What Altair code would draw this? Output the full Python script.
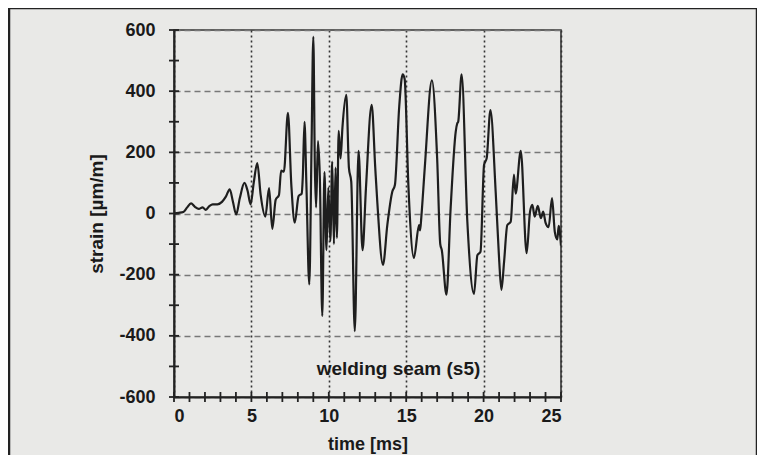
import altair as alt
import pandas as pd

# time [ms] and strain [µm/m]
time_ms = [0.0, 0.3, 0.6, 0.85, 1.1, 1.35, 1.6, 1.85, 2.05, 2.3, 2.5, 2.8, 3.1, 3.35, 3.6, 3.8, 4.02, 4.25,
           4.55, 4.75, 4.95, 5.15, 5.38, 5.6, 5.9, 6.14, 6.35, 6.57, 6.78, 6.92, 7.1, 7.36, 7.58, 7.8,
           8.05, 8.25, 8.32, 8.43, 8.55, 8.74, 8.88, 9.0, 9.1, 9.18, 9.3, 9.42, 9.58, 9.72, 9.85, 9.97,
           10.1, 10.22, 10.33, 10.44, 10.52, 10.64, 10.76, 10.88, 11.13, 11.3, 11.45, 11.68, 11.92,
           12.18, 12.4, 12.77, 13.0, 13.13, 13.5, 13.78, 14.1, 14.27, 14.55, 14.77, 14.9, 15.14, 15.5,
           15.83, 15.9, 15.98, 16.2, 16.66, 17.0, 17.2, 17.3, 17.6, 17.87, 18.2, 18.3, 18.36, 18.58,
           18.95, 19.38, 19.6, 19.8, 20.03, 20.2, 20.44, 20.78, 21.0, 21.15, 21.32, 21.53, 21.75,
           21.96, 22.07, 22.4, 22.78, 23.0, 23.15, 23.3, 23.5, 23.7, 23.85, 24.0, 24.2, 24.42, 24.6,
           24.76, 24.85, 25.0]
strain = [0, 2, 5, 20, 33, 22, 15, 20, 12, 25, 30, 30, 38, 55, 79, 40, -3, 50,
          100, 75, 30, 100, 165, 60, -10, 83, -50, 45, 60, 140, 137, 329, 93, -30,
          57, 65, 120, 300, 100, -232, 200, 578, 150, 20, 237, 120, -335, 135, -120, 85,
          -90, 170, -100, 150, -80, 270, 180, 280, 388, 149, 104, -385, 205,
          -120, 83, 355, 150, 40, -168, -38, 71, 93, 350, 455, 440, 93, -145,
          -38, -55, -10, 150, 435, 180, -100, -120, -265, 17, 268, 295, 300, 455,
          -27, -263, -136, -125, 159, 181, 338, 71, -147, -250, -160, -38, -27,
          127, 65, 205, -130, 6, 28, -10, 25, -15, 6, -30, -45, 50, -60,
          -85, -40, -105]

x_tick_labels = [0, 5, 10, 15, 20, 25]
y_tick_labels = [-600, -400, -200, 0, 200, 400, 600]
x_minor_ticks = [0, 1, 2, 3, 4, 5, 6, 7, 8, 9, 10, 11, 12, 13, 14, 15, 16, 17, 18, 19, 20, 21, 22, 23, 24, 25]
y_minor_ticks = [-600, -500, -400, -300, -200, -100, 0, 100, 200, 300, 400, 500, 600]

note_text = ["welding seam (s5)"]
note_x = [14.5]
note_y = [-508]

df = pd.DataFrame({"t": time_ms, "s": strain})
xt = pd.DataFrame({"t": x_minor_ticks})
yt = pd.DataFrame({"s": y_minor_ticks})
note = pd.DataFrame({"text": note_text, "t": note_x, "s": note_y})

FONT = "Liberation Sans"
W, H = 387, 367
xscale = alt.Scale(domain=[0, 25], nice=False, zero=False)
yscale = alt.Scale(domain=[-600, 600], nice=False, zero=False)

line = alt.Chart(df).mark_line(color="#1e1e1e", strokeWidth=2.2, clip=True,
                               interpolate="monotone").encode(
    x=alt.X("t:Q", scale=xscale,
            axis=alt.Axis(title="time [ms]", values=x_tick_labels, format="d",
                          grid=True, gridDash=[2, 3], gridColor="#333", gridWidth=1.6,
                          ticks=False, domainColor="#222", domainWidth=2,
                          labelFont=FONT, labelFontSize=18, labelFontWeight="bold",
                          labelColor="#1a1a1a", labelPadding=10,
                          titleFont=FONT, titleFontSize=18, titleFontWeight="bold",
                          titleColor="#1a1a1a", titlePadding=10)),
    y=alt.Y("s:Q", scale=yscale,
            axis=alt.Axis(title="strain [µm/m]", values=y_tick_labels,
                          labelExpr="datum.value < 0 ? '-' + abs(datum.value) : '' + datum.value",
                          grid=True, gridDash=[6, 4], gridColor="#777", gridWidth=1.3,
                          ticks=False, domainColor="#222", domainWidth=2,
                          labelFont=FONT, labelFontSize=18, labelFontWeight="bold",
                          labelColor="#1a1a1a", labelPadding=19,
                          titleFont=FONT, titleFontSize=19, titleFontWeight="bold",
                          titleColor="#1a1a1a", titlePadding=12)),
)

ytick = alt.Chart(yt).mark_rule(color="#222", strokeWidth=1.8).encode(
    x=alt.value(-5), x2=alt.value(5), y=alt.Y("s:Q", scale=yscale)
)
xtick = alt.Chart(xt).mark_rule(color="#222", strokeWidth=1.8).encode(
    y=alt.value(H - 5), y2=alt.value(H + 5), x=alt.X("t:Q", scale=xscale)
)

label = alt.Chart(note).mark_text(font=FONT, fontSize=19, fontWeight="bold",
                                  color="#1a1a1a").encode(
    x=alt.X("t:Q", scale=xscale), y=alt.Y("s:Q", scale=yscale), text="text:N"
)

frame = alt.Chart(pd.DataFrame({"a": [0]})).mark_rect(
    filled=False, stroke="#222", strokeWidth=2.5, clip=False
).encode(x=alt.value(-165), x2=alt.value(583), y=alt.value(-22), y2=alt.value(480))

chart = alt.layer(frame, line, ytick, xtick, label).properties(
    width=W, height=H,
    autosize=alt.AutoSizeParams(type="none"),
    padding={"left": 166, "top": 22, "right": 196, "bottom": 58},
    background="#e9e9e7",
).configure_view(stroke="#333", strokeWidth=1.6, fill="#e9e9e7")

chart.save("out.html", embed_options={"renderer": "svg", "actions": False})
